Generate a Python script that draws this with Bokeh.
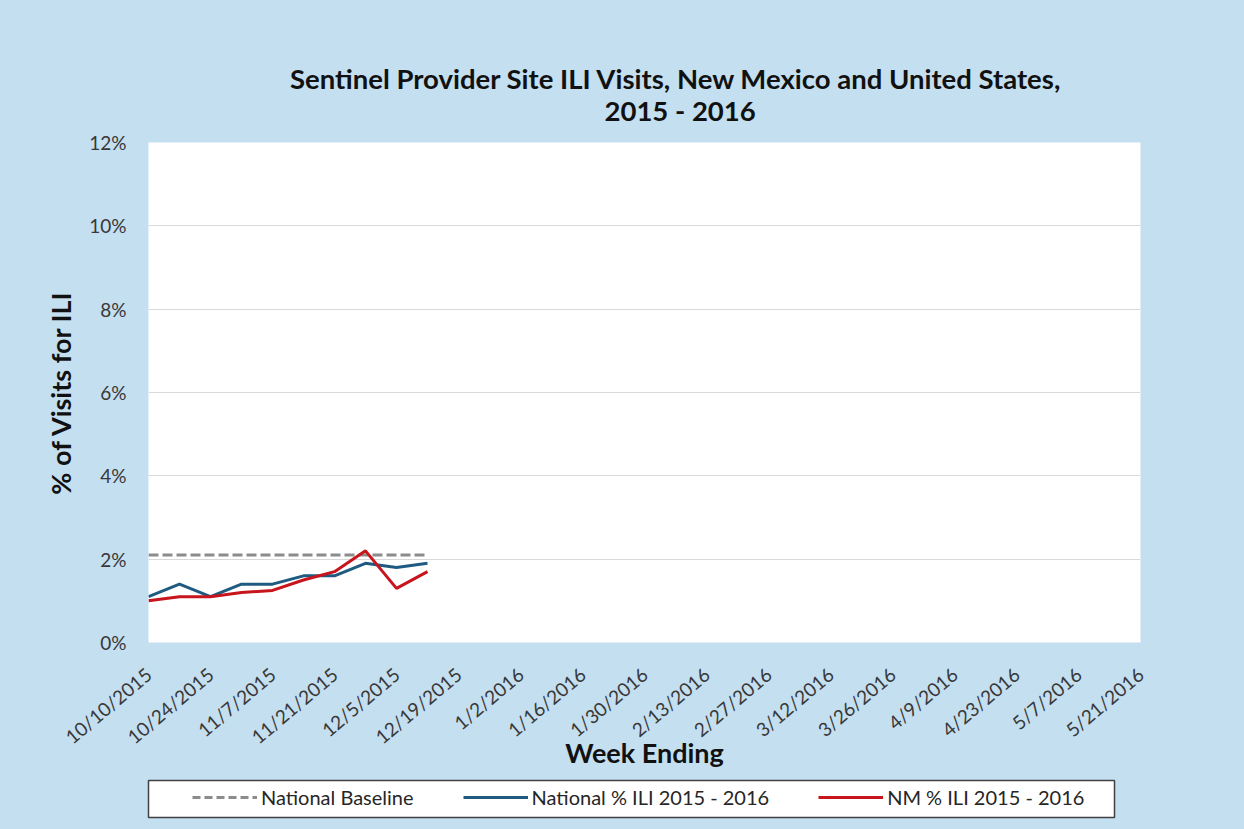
from bokeh.plotting import figure
from bokeh.layouts import column
from bokeh.models import (Legend, LegendItem, FixedTicker, PrintfTickFormatter,
                          Range1d, Label)
from bokeh.embed import file_html
from bokeh.resources import INLINE

weeks = ["10/10/2015", "10/17/2015", "10/24/2015", "10/31/2015", "11/7/2015",
         "11/14/2015", "11/21/2015", "11/28/2015", "12/5/2015", "12/12/2015",
         "12/19/2015", "12/26/2015", "1/2/2016", "1/9/2016", "1/16/2016",
         "1/23/2016", "1/30/2016", "2/6/2016", "2/13/2016", "2/20/2016",
         "2/27/2016", "3/5/2016", "3/12/2016", "3/19/2016", "3/26/2016",
         "4/2/2016", "4/9/2016", "4/16/2016", "4/23/2016", "4/30/2016",
         "5/7/2016", "5/14/2016", "5/21/2016"]

national_baseline = [2.1, 2.1, 2.1, 2.1, 2.1, 2.1, 2.1, 2.1, 2.1, 2.1]
national_ili = [1.1, 1.4, 1.1, 1.4, 1.4, 1.6, 1.6, 1.9, 1.8, 1.9]
nm_ili = [1.0, 1.1, 1.1, 1.2, 1.25, 1.5, 1.7, 2.2, 1.3, 1.7]

y_ticks = [0, 2, 4, 6, 8, 10, 12]

series_names = ["National Baseline", "National % ILI 2015 - 2016",
                "NM % ILI 2015 - 2016"]
title_line1 = "Sentinel Provider Site ILI Visits, New Mexico and United States,"
title_line2 = "2015 - 2016"

BG = "#C4DFF0"
FONT = "Lato"
C_BASE, C_NAT, C_NM = "#8C8C8C", "#1F5A80", "#C8141C"
W = 1244

# ---------------- title strip ----------------
pt = figure(width=W, height=130, output_backend="svg", toolbar_location=None,
            x_range=Range1d(0, W), y_range=Range1d(0, 130),
            x_axis_type=None, y_axis_type=None, min_border=0)
pt.border_fill_color = BG
pt.background_fill_color = BG
pt.outline_line_color = None
pt.add_layout(Label(x=681, y=52, text=title_line1, text_align="center",
                    text_baseline="middle", text_font=FONT,
                    text_font_style="bold", text_font_size="27.5px",
                    text_color="#111111"))
pt.add_layout(Label(x=686, y=20, text=title_line2, text_align="center",
                    text_baseline="middle", text_font=FONT,
                    text_font_style="bold", text_font_size="27.5px",
                    text_color="#111111"))

# ---------------- main chart ----------------
p = figure(frame_width=992, frame_height=500, output_backend="svg",
           toolbar_location=None,
           x_range=Range1d(0, len(weeks) - 1), y_range=Range1d(0, 12),
           min_border_left=148, min_border_right=104, min_border_top=12,
           min_border_bottom=134)
p.border_fill_color = BG
p.background_fill_color = "white"
p.outline_line_color = None

x_base = list(range(len(national_baseline)))
x_nat = list(range(len(national_ili)))
x_nm = list(range(len(nm_ili)))

p.line(x_base, national_baseline, line_color=C_BASE, line_width=3, line_dash="10 4")
p.line(x_nat, national_ili, line_color=C_NAT, line_width=3)
p.line(x_nm, nm_ili, line_color=C_NM, line_width=3)

# x axis
xticks = list(range(0, len(weeks), 2))
p.xaxis.ticker = FixedTicker(ticks=xticks)
p.xaxis.major_label_overrides = {i: weeks[i] for i in xticks}
p.xaxis.major_label_orientation = 0.7
p.xaxis.major_label_text_font = FONT
p.xaxis.major_label_text_font_size = "19px"
p.xaxis.major_label_text_color = "#383838"
p.xaxis.major_label_standoff = 29
p.xaxis.axis_line_color = None
p.xaxis.major_tick_line_color = None
p.xaxis.minor_tick_line_color = None
p.xaxis.major_tick_out = 0
p.xaxis.axis_label = "Week Ending"
p.xaxis.axis_label_text_font = FONT
p.xaxis.axis_label_text_font_style = "bold"
p.xaxis.axis_label_text_font_size = "27px"
p.xaxis.axis_label_text_color = "#111111"
p.xaxis.axis_label_standoff = -24

# y axis
p.yaxis.ticker = FixedTicker(ticks=y_ticks)
p.yaxis.formatter = PrintfTickFormatter(format="%d%%")
p.yaxis.major_label_text_font = FONT
p.yaxis.major_label_text_font_size = "19px"
p.yaxis.major_label_text_color = "#383838"
p.yaxis.major_label_standoff = 22
p.yaxis.axis_line_color = None
p.yaxis.major_tick_line_color = None
p.yaxis.minor_tick_line_color = None
p.yaxis.major_tick_out = 0
p.yaxis.axis_label = "% of Visits for ILI"
p.yaxis.axis_label_text_font = FONT
p.yaxis.axis_label_text_font_style = "bold"
p.yaxis.axis_label_text_font_size = "27px"
p.yaxis.axis_label_text_color = "#111111"
p.yaxis.axis_label_standoff = 9

p.xgrid.grid_line_color = None
p.ygrid.grid_line_color = "#D9D9D9"
p.ygrid.grid_line_width = 1

# ---------------- legend strip (boxed) ----------------
pl = figure(frame_width=966, frame_height=37, output_backend="svg",
            toolbar_location=None, x_range=Range1d(100, 101),
            y_range=Range1d(100, 101), x_axis_type=None, y_axis_type=None,
            min_border_left=146, min_border_right=132, min_border_top=4,
            min_border_bottom=12)
pl.border_fill_color = BG
pl.background_fill_color = "white"
pl.outline_line_color = "#404040"
pl.outline_line_width = 1.5

# legend swatches reuse the series (drawn outside this strip's view)
lr_base = pl.line(x_base, national_baseline, line_color=C_BASE, line_width=3,
                  line_dash="8 4")
lr_nat = pl.line(x_nat, national_ili, line_color=C_NAT, line_width=3)
lr_nm = pl.line(x_nm, nm_ili, line_color=C_NM, line_width=3)

legend = Legend(items=[
    LegendItem(label=series_names[0], renderers=[lr_base]),
    LegendItem(label=series_names[1], renderers=[lr_nat]),
    LegendItem(label=series_names[2], renderers=[lr_nm]),
], orientation="horizontal", location=(44, 8))
legend.padding = 0
legend.margin = 0
legend.spacing = 49
legend.glyph_width = 65
legend.glyph_height = 22
legend.label_standoff = 4
legend.label_text_font = FONT
legend.label_text_font_size = "20px"
legend.label_text_color = "#262626"
legend.border_line_color = None
legend.background_fill_alpha = 0
pl.add_layout(legend, "center")

layout = column(pt, p, pl, spacing=0, styles={"background-color": BG})
open("out.html", "w").write(file_html(layout, INLINE))
